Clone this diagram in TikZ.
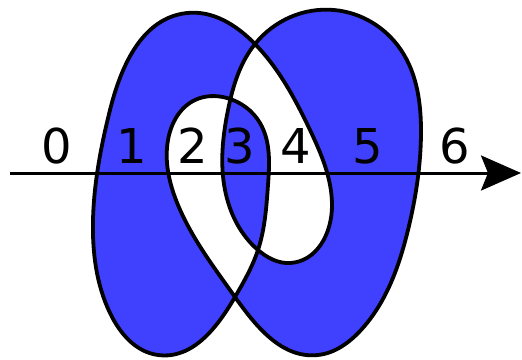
\documentclass[tikz,border=0pt]{standalone}
\usepackage{fontspec}
\setmainfont{DejaVu Sans}
\usetikzlibrary{arrows.meta,hobby}
\definecolor{regionblue}{RGB}{64,64,255}
\tikzset{
  digit/.style={anchor=base,inner sep=0pt,font=\fontsize{48}{48}\selectfont},
  curve/.style={line width=3.8pt,line join=round},
}

\begin{document}
\begin{tikzpicture}[x=1pt,y=-1pt,>={Stealth[length=40pt,width=35pt,inset=7pt]}]
\useasboundingbox (0,0) rectangle (522,359);
% the closed curve, filled by parity
\filldraw[curve,fill=regionblue,even odd rule,use Hobby shortcut,closed=true]
  (334,10) .. (401,50) .. (421,133) .. (408,230) .. (361,330) .. (318,355)
  .. (235,297) .. (178,205) .. (168,140) .. (195,100) .. (227,98)
  .. (260,123) .. (268,185) .. (258,250) .. (235,297) .. (158,355)
  .. (110,313) .. (93,220) .. (110,110) .. (187,13) .. (255,44) .. (310,130)
  .. (332,205) .. (290,263) .. (258,250) .. (225,190) .. (228,110) .. (255,44)
  .. (334,10);
% the ray
\coordinate (ray start) at (10,173);
\coordinate (ray end) at (521,173);
\draw[->,line width=3pt] (ray start) -- (ray end);
\foreach \n/\x in {0/57,1/132,2/193,3/240,4/296,5/368,6/455}
  \node[digit] (n\n) at (\x,163) {\n};
\end{tikzpicture}
\end{document}
